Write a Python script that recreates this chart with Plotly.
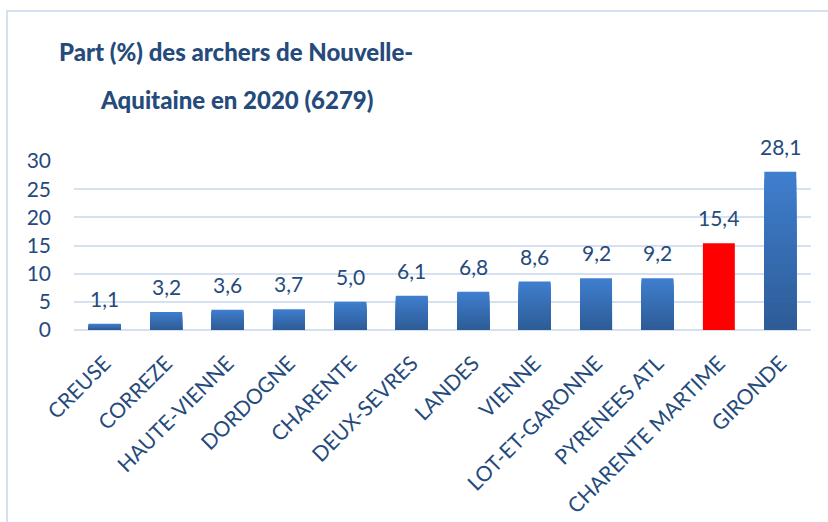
import plotly.graph_objects as go

categories = ["CREUSE", "CORREZE", "HAUTE-VIENNE", "DORDOGNE", "CHARENTE", "DEUX-SEVRES",
              "LANDES", "VIENNE", "LOT-ET-GARONNE", "PYRENEES ATL", "CHARENTE MARTIME", "GIRONDE"]
values = [1.1, 3.2, 3.6, 3.7, 5.0, 6.1, 6.8, 8.6, 9.2, 9.2, 15.4, 28.1]
highlight = "CHARENTE MARTIME"
y_ticks = [0, 5, 10, 15, 20, 25, 30]
title_lines = ["Part (%) des archers de Nouvelle-", "Aquitaine en 2020 (6279)"]

TOP = (0x3F, 0x7E, 0xCD)
BOTTOM = (0x2D, 0x5B, 0x95)
RED = "#FF0000"
TEXT = "#254A7C"
GRID = "#D5E0F0"
FONT = "Lato"

labels = [f"{v:.1f}".replace(".", ",") for v in values]

fig = go.Figure()
N = 24
for k in range(N, 0, -1):
    f = k / N
    t = 1 - f
    r, g, b = (round(TOP[i] + (BOTTOM[i] - TOP[i]) * t) for i in range(3))
    col = f"rgb({r},{g},{b})"
    fig.add_bar(
        x=categories,
        y=[v * f if c != highlight else (v if k == N else 0) for c, v in zip(categories, values)],
        marker=dict(color=[RED if c == highlight else col for c in categories], line=dict(width=0)),
        width=0.52, hoverinfo="skip" if k != N else None,
    )

W, H = 828, 522
ml, mr, mt, mb = 74, 17, 161, 192
pw, ph = W - ml - mr, H - mt - mb

def px(x):
    return (x - ml) / pw

def py(y):
    return (H - mb - y) / ph

annotations = [dict(x=c, y=v, text=t, showarrow=False, yanchor="bottom", yshift=11,
                    font=dict(family=FONT, size=21, color=TEXT))
               for c, v, t in zip(categories, values, labels)]
annotations += [dict(xref="paper", yref="paper", x=px(236), y=py(yy), text=t,
                     showarrow=False, xanchor="center", yanchor="middle",
                     font=dict(family=FONT, size=24, color=TEXT, weight=900))
                for t, yy in zip(title_lines, [51, 100])]

fig.update_layout(
    width=W, height=H, margin=dict(l=ml, r=mr, t=mt, b=mb, autoexpand=False),
    paper_bgcolor="white", plot_bgcolor="white", showlegend=False,
    font=dict(family=FONT, color=TEXT),
    barmode="overlay",
    xaxis=dict(tickangle=-45, tickfont=dict(family=FONT, size=21, color=TEXT),
               showgrid=False, showline=False, ticks="", automargin=False,
               ticklabelstandoff=16),
    yaxis=dict(range=[0, 30], tickvals=y_ticks, tickfont=dict(family=FONT, size=21, color=TEXT),
               showgrid=True, gridcolor=GRID, gridwidth=2, zeroline=True,
               zerolinecolor=GRID, zerolinewidth=2, showline=False, ticks="",
               ticklabelstandoff=22, automargin=False),
    annotations=annotations,
    shapes=[dict(type="rect", xref="paper", yref="paper", x0=px(7), x1=px(840), y0=py(540), y1=py(11),
                 line=dict(color=GRID, width=2), fillcolor="rgba(0,0,0,0)", layer="below")],
)

fig.write_html("out.html", post_script="document.body.style.margin='0';",
               config={"displayModeBar": False})
